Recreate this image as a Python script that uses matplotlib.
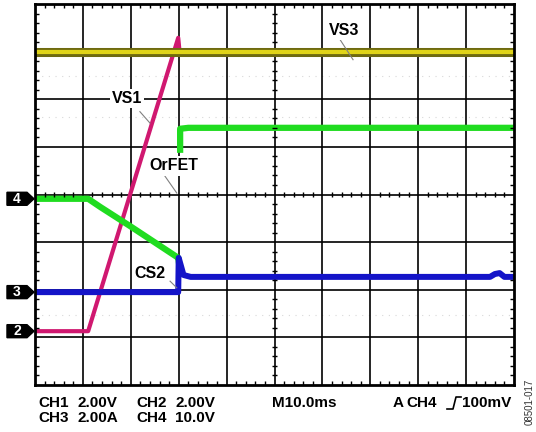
import matplotlib
matplotlib.use("Agg")
import matplotlib.pyplot as plt
from matplotlib.patches import Polygon
from matplotlib.lines import Line2D
import numpy as np

plt.rcParams['font.family'] = ['Liberation Sans', 'DejaVu Sans']

# trace data, in screen divisions (x: 0..10, y: 0..8)
vs3_x = [0.0, 10.0]
vs3_y = [7.0, 7.0]

vs1_x = [0.0, 1.11, 2.99, 3.02, 10.0]
vs1_y = [1.13, 1.13, 7.29, 6.98, 6.98]

orfet_x1 = [0.0, 1.11, 1.36, 1.98, 2.99, 3.0]
orfet_y1 = [3.91, 3.91, 3.74, 3.34, 2.67, 2.60]
orfet_x2 = [3.03, 3.03, 3.2, 10.0]
orfet_y2 = [4.94, 5.38, 5.40, 5.40]

cs2_x = [0.0, 2.99, 3.0, 3.1, 3.25, 9.5, 9.6, 9.7, 9.8, 10.0]
cs2_y = [1.95, 1.95, 2.67, 2.31, 2.27, 2.27, 2.33, 2.35, 2.27, 2.27]

marker_names = ['4', '3', '2']
marker_levels = [3.91, 1.95, 1.13]

labels = ['VS3', 'VS1', 'OrFET', 'CS2']
label_pos = [(6.45, 7.44), (1.92, 6.01), (2.90, 4.60), (2.40, 2.35)]
leader_start = [(6.37, 7.25), (2.19, 5.74), (2.71, 4.39), (2.82, 2.18)]
leader_end = [(6.64, 6.83), (2.40, 5.50), (2.96, 4.03), (2.96, 2.04)]

W, H = 536, 432
fig = plt.figure(figsize=(W / 100, H / 100), dpi=100)
ax = fig.add_axes([35 / W, (H - 385) / H, 479 / W, 381 / H])
ax.set_xlim(0, 10)
ax.set_ylim(0, 8)
ax.set_xticks([])
ax.set_yticks([])
for s in ax.spines.values():
    s.set_linewidth(2.0)
    s.set_zorder(6)

# graticule
for i in range(1, 10):
    ax.axvline(i, color='black', lw=1.2, zorder=1)
for j in range(1, 8):
    ax.axhline(j, color='black', lw=1.2, zorder=1)

# faint dotted reference lines
for yy in [6.49, 5.63, 1.47]:
    ax.axhline(yy, color='#d8d8d8', lw=0.8, ls=(0, (1, 5)), zorder=0)

# small tick marks on borders and centre lines
tx = 4 / 47.9
ty = 4 / 47.6
xt = [v for v in np.arange(0, 10.001, 0.2) if abs(v - round(v)) > 1e-6]
yt = [v for v in np.arange(0, 8.001, 0.2) if abs(v - round(v)) > 1e-6]
ax.vlines(xt, 8 - ty, 8, color='black', lw=1.0, zorder=5)
ax.vlines(xt, 0, ty, color='black', lw=1.0, zorder=5)
ax.vlines(xt, 4 - 0.7 * ty, 4 + 0.7 * ty, color='black', lw=1.0, zorder=5)
ax.hlines(yt, 0, tx, color='black', lw=1.0, zorder=5)
ax.hlines(yt, 10 - tx, 10, color='black', lw=1.0, zorder=5)
ax.hlines(yt, 5 - 0.7 * tx, 5 + 0.7 * tx, color='black', lw=1.0, zorder=5)

# traces
ax.plot(vs1_x, vs1_y, color='#d01870', lw=3.0, zorder=2, solid_joinstyle='round')
ax.plot(vs3_x, vs3_y, color='#6e6a10', lw=6.5, zorder=3)
ax.plot(vs3_x, vs3_y, color='#e0d418', lw=3.0, zorder=3)
ax.plot(orfet_x1, orfet_y1, color='#20dc20', lw=4.5, zorder=3, solid_joinstyle='round')
ax.plot(orfet_x2, orfet_y2, color='#20dc20', lw=4.5, zorder=3, solid_joinstyle='round')
ax.plot(cs2_x, cs2_y, color='#1414c8', lw=4.3, zorder=3, solid_joinstyle='round')

# channel markers on the left edge
for name, lev in zip(marker_names, marker_levels):
    h = 6.5 / 47.6
    pts = [(-0.585, lev - h), (-0.167, lev - h), (-0.02, lev),
           (-0.167, lev + h), (-0.585, lev + h)]
    ax.add_patch(Polygon(pts, closed=True, color='black', clip_on=False, zorder=7))
    ax.text(-0.376, lev, name, color='white', fontsize=10, fontweight='bold',
            ha='center', va='center', clip_on=False, zorder=8)

# labels with leader lines
for lab, (lx, ly), (sx, sy), (ex, ey) in zip(labels, label_pos, leader_start, leader_end):
    ax.plot([sx, ex], [sy, ey], color='#808080', lw=0.8, zorder=4)
    ax.text(lx, ly, lab, fontsize=11.5, fontweight='bold', ha='center', va='center',
            zorder=9, bbox=dict(facecolor='white', edgecolor='none', pad=1.5))

# bottom readout
def ftext(x, y, s, **kw):
    fig.text(x / W, 1 - y / H, s, fontsize=11, fontweight='bold', va='center', **kw)

ftext(38, 403, 'CH1')
ftext(78, 403, '2.00V')
ftext(136, 403, 'CH2')
ftext(175, 403, '2.00V')
ftext(38, 418, 'CH3')
ftext(78, 418, '2.00A')
ftext(136, 418, 'CH4')
ftext(175, 418, '10.0V')
ftext(272, 403, 'M10.0ms')
ftext(393, 403, 'A')
ftext(406, 403, 'CH4')
ftext(462, 403, '100mV')
sym_x = [447, 453, 456, 461]
sym_y = [409, 409, 397, 397]
fig.add_artist(Line2D([v / W for v in sym_x], [1 - v / H for v in sym_y],
                      color='black', lw=1.2, transform=fig.transFigure))

fig.text(530 / W, 1 - 402 / H, '08501-017', fontsize=7, rotation=90,
         ha='center', va='center', color='#333333')

fig.savefig('out.png', dpi=100)
